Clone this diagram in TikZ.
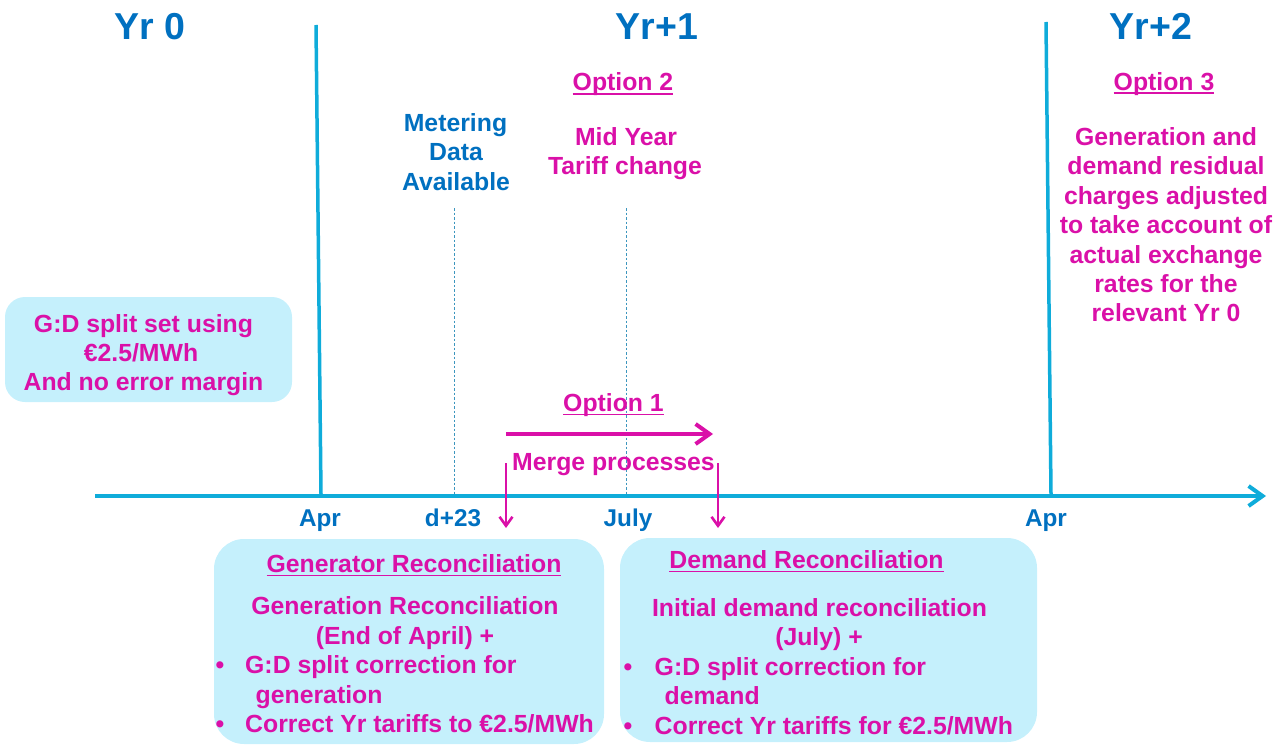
\documentclass[tikz,border=0pt]{standalone}
\usepackage{fontspec}
\setmainfont{Liberation Sans}
\usetikzlibrary{arrows.meta}
\definecolor{mag}{RGB}{218,16,168}
\definecolor{tblue}{RGB}{0,112,192}
\definecolor{axiscol}{RGB}{15,172,218}
\definecolor{guidecol}{RGB}{60,150,190}
\definecolor{boxfill}{RGB}{197,240,252}
\newcommand{\myul}[1]{\leavevmode\setbox0=\hbox{#1}\rlap{\rule[-3.6pt]{\wd0}{1.6pt}}\box0}
\begin{document}
\begin{tikzpicture}[x=1pt,y=-1pt,
  txt/.style={font=\fontsize{24.8}{29.4}\selectfont\bfseries, inner sep=0pt, anchor=base},
  magtxt/.style={txt, text=mag},
  bluetxt/.style={txt, text=tblue},
  yeartxt/.style={font=\fontsize{37.5}{40}\selectfont\bfseries, text=tblue, inner sep=0pt, anchor=base},
  monthtxt/.style={font=\fontsize{24.3}{27}\selectfont\bfseries, text=tblue, inner sep=0pt, anchor=base},
  infobox/.style={fill=boxfill, draw=none, inner sep=0pt},
  yearline/.style={draw=axiscol, line width=3.5pt},
  axisline/.style={draw=axiscol, line width=4pt, -{Straight Barb[length=14pt,width=20pt,line width=4pt]}},
  guide/.style={draw=guidecol, line width=0.7pt, dash pattern=on 2.5pt off 2pt},
  optarrow/.style={draw=mag, line width=4pt, -{Straight Barb[length=14pt,width=20pt,line width=4pt]}},
  downarrow/.style={draw=mag, line width=2.6pt, -{Straight Barb[length=9pt,width=13pt,line width=2.6pt]}}
]
\useasboundingbox (0,0) rectangle (1287,749);

% boxes
\node[infobox, rounded corners=20pt, minimum width=287pt, minimum height=105pt] (gdbox) at (148.5,349.5) {};
\node[infobox, rounded corners=30pt, minimum width=390pt, minimum height=205pt] (genbox) at (409,641.5) {};
\node[infobox, rounded corners=30pt, minimum width=417pt, minimum height=204pt] (dembox) at (828.5,640) {};

% timeline
\coordinate (axstart) at (95,496);
\coordinate (axend) at (1266,496);
\draw[axisline] (axstart) -- (axend);
\coordinate (y1top) at (316,25);
\coordinate (y1bot) at (321,494);
\draw[yearline] (y1top) -- (y1bot);
\coordinate (y2top) at (1046,22);
\coordinate (y2bot) at (1051,494);
\draw[yearline] (y2top) -- (y2bot);
\coordinate (d23top) at (454,208);
\coordinate (d23bot) at (454,496);
\draw[guide] (d23top) -- (d23bot);
\coordinate (jultop) at (626,208);
\coordinate (julbot) at (626,496);
\draw[guide] (jultop) -- (julbot);

% year titles
\node[yeartxt] (yr0) at (150,39.5) {Yr 0};
\node[yeartxt] (yr1) at (657,39.5) {Yr+1};
\node[yeartxt] (yr2) at (1151,39.5) {Yr+2};

% month labels
\node[monthtxt] (apr1) at (320,526) {Apr};
\node[monthtxt] (d23) at (453,526) {d+23};
\node[monthtxt] (july) at (628,526) {July};
\node[monthtxt] (apr2) at (1046,526) {Apr};

% metering
\node[bluetxt] (met1) at (455.5,131.5) {Metering};
\node[bluetxt] (met2) at (456,160.9) {Data};
\node[bluetxt] (met3) at (456,190.3) {Available};

% option 2
\node[magtxt] (opt2) at (623,91) {\myul{Option 2}};
\node[magtxt] (mid1) at (626,145.5) {Mid Year};
\node[magtxt] (mid2) at (625,174.9) {Tariff change};

% option 3
\node[magtxt] (opt3) at (1164,90.5) {\myul{Option 3}};
\foreach \t [count=\i] in {Generation and, demand residual, charges adjusted, to take account of, actual exchange, rates for the, relevant Yr 0}
  \node[magtxt] (opt3l\i) at (1166,{145.5+29.4*(\i-1)}) {\t};

% left box text
\node[magtxt] (gd1) at (143.5,332.5) {G:D split set using};
\node[magtxt] (gd2) at (141,361.7) {€2.5/MWh};
\node[magtxt] (gd3) at (143.5,390.9) {And no error margin};

% option 1
\node[magtxt] (opt1) at (613.5,411.5) {\myul{Option 1}};
\coordinate (o1start) at (506,434);
\coordinate (o1end) at (713,434);
\draw[optarrow] (o1start) -- (o1end);
\node[magtxt] (merge) at (613.5,470.5) {Merge processes};
\coordinate (dgtop) at (506,463);
\coordinate (dgbot) at (506,528);
\draw[downarrow] (dgtop) -- (dgbot);
\coordinate (ddtop) at (718,463);
\coordinate (ddbot) at (718,528);
\draw[downarrow] (ddtop) -- (ddbot);

% generator box text
\node[magtxt] (gtitle) at (414,572.5) {\myul{Generator Reconciliation}};
\node[magtxt] (g1) at (405,614.5) {Generation Reconciliation};
\node[magtxt] (g2) at (405,644) {(End of April) +};
\node[magtxt] (gb1) at (220,673.5) {•};
\node[magtxt, anchor=base west] (g3) at (245,673.5) {G:D split correction for};
\node[magtxt, anchor=base west] (g4) at (255.5,703) {generation};
\node[magtxt] (gb2) at (220,732.5) {•};
\node[magtxt, anchor=base west] (g5) at (245,732.5) {Correct Yr tariffs to €2.5/MWh};

% demand box text
\node[magtxt] (dtitle) at (806.5,568.5) {\myul{Demand Reconciliation}};
\node[magtxt] (d1) at (819.5,616.5) {Initial demand reconciliation};
\node[magtxt] (d2) at (819,645.9) {(July) +};
\node[magtxt] (db1) at (628,675.3) {•};
\node[magtxt, anchor=base west] (d3) at (654.5,675.3) {G:D split correction for};
\node[magtxt, anchor=base west] (d4) at (664.5,704.7) {demand};
\node[magtxt] (db2) at (628,734.1) {•};
\node[magtxt, anchor=base west] (d5) at (654.5,734.1) {Correct Yr tariffs for €2.5/MWh};
\end{tikzpicture}
\end{document}
